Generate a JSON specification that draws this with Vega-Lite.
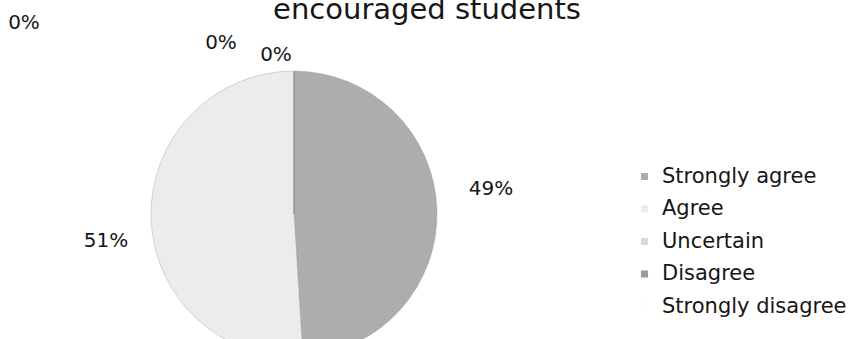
{
  "$schema": "https://vega.github.io/schema/vega-lite/v6.json",
  "width": 588,
  "height": 388,
  "autosize": "none",
  "padding": {"left": 0, "top": 20, "right": 269, "bottom": 0},
  "background": "white",
  "title": {
    "text": "encouraged students",
    "font": "DejaVu Sans",
    "fontSize": 29,
    "fontWeight": "normal",
    "color": "#161616",
    "anchor": "middle",
    "dx": 133,
    "dy": 12,
    "offset": 0
  },
  "data": {
    "values": [
      {"category": "Strongly agree", "value": 0.49, "rank": 1},
      {"category": "Agree", "value": 0.51, "rank": 2},
      {"category": "Uncertain", "value": 0, "rank": 3},
      {"category": "Disagree", "value": 0, "rank": 4},
      {"category": "Strongly disagree", "value": 0, "rank": 5}
    ]
  },
  "encoding": {
    "theta": {"field": "value", "type": "quantitative", "stack": true},
    "order": {"field": "rank", "type": "quantitative"}
  },
  "layer": [
    {
      "mark": {"type": "arc", "outerRadius": 143, "stroke": "#9a9a9a", "strokeWidth": 0.4},
      "encoding": {
        "color": {
          "field": "category",
          "type": "nominal",
          "sort": null,
          "scale": {
            "domain": ["Strongly agree", "Agree", "Uncertain", "Disagree", "Strongly disagree"],
            "range": ["#adadad", "#ececec", "#d9d9d9", "#9c9c9c", "#fcfcfc"]
          },
          "legend": {
            "title": null,
            "orient": "none",
            "legendX": 634,
            "legendY": 146,
            "padding": 0,
            "symbolType": "square",
            "symbolSize": 50,
            "symbolStrokeWidth": 0,
            "labelFont": "DejaVu Sans",
            "labelFontSize": 21,
            "labelColor": "#161616",
            "labelOffset": 7,
            "rowPadding": 10.5,
            "labelLimit": 300
          }
        }
      }
    },
    {
      "mark": {
        "type": "text",
        "font": "DejaVu Sans",
        "fontSize": 20,
        "color": "#161616",
        "radius": {"expr": "datum.category == 'Strongly agree' ? 197 : datum.category == 'Agree' ? 188 : datum.category == 'Uncertain' ? 191 : datum.category == 'Disagree' ? 171 : 159"},
        "dx": {"expr": "datum.category == 'Uncertain' ? -270 : datum.category == 'Disagree' ? -73 : datum.category == 'Strongly disagree' ? -18 : 0"},
        "dy": {"expr": "datum.category == 'Strongly agree' ? -19 : datum.category == 'Agree' ? 21 : 0"}
      },
      "encoding": {
        "text": {"field": "value", "type": "quantitative", "format": ".0%"}
      }
    }
  ]
}
